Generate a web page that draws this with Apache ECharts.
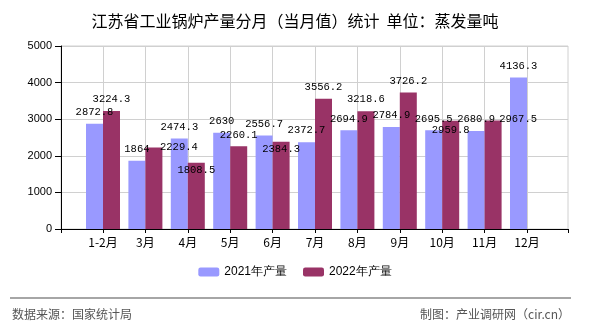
<!DOCTYPE html>
<html>
<head>
<meta charset="utf-8">
<script src="https://cdn.jsdelivr.net/npm/echarts@6/dist/echarts.min.js"></script>
<style>
html,body{margin:0;padding:0;background:#fff;}
#chart{width:590px;height:330px;}
</style>
</head>
<body>
<div id="chart"></div>
<script>
// ---- data ----
const categories = ['1-2月','3月','4月','5月','6月','7月','8月','9月','10月','11月','12月'];
const series2021 = [2872.8, 1864, 2474.3, 2630, 2556.7, 2372.7, 2694.9, 2784.9, 2695.5, 2680.9, 4136.3];
const series2022 = [3224.3, 2229.4, 1808.5, 2260.1, 2384.3, 3556.2, 3218.6, 3726.2, 2959.8, 2967.5, null];
const seriesNames = ['2021年产量', '2022年产量'];
const yTicks = [0, 1000, 2000, 3000, 4000, 5000];
const titleText = '江苏省工业锅炉产量分月（当月值）统计  单位：蒸发量吨';
const sourceText = '数据来源：国家统计局';
const makerText = '制图：产业调研网（cir.cn）';

// label placement tweaks (style only) for the 2022 series, by index: [dx, dy]
const nudge2022 = {1:[25,11], 2:[0,19], 4:[0,19], 8:[0,21], 9:[25,10]};

const labelStyle = {
  show: true, position: 'top', distance: 6, color: '#000',
  fontFamily: 'Liberation Mono', fontSize: 10.5
};

const chart = echarts.init(document.getElementById('chart'), null, {renderer: 'canvas'});

const data2022 = series2022.map((v, i) => {
  if (v === null) return '-';
  const n = nudge2022[i];
  return n ? {value: v, label: {offset: n}} : v;
});

chart.setOption({
  animation: false,
  title: {
    text: titleText, left: 'center', top: 8,
    textStyle: {fontSize: 16, fontWeight: 'normal', color: '#000', fontFamily: 'Noto Sans CJK SC'}
  },
  legend: {
    data: seriesNames, bottom: 47, left: 'center',
    itemWidth: 21, itemHeight: 9, itemGap: 16,
    textStyle: {fontSize: 12, color: '#000', fontFamily: 'Liberation Sans'}
  },
  grid: [
    {left: 61, right: 22, top: 46, bottom: 101, show: true, borderColor: '#d0d0d0', borderWidth: 1},
    {left: 103, right: 63, top: 46, bottom: 101}
  ],
  xAxis: [
    {gridIndex: 0, type: 'value', min: 0, max: 1, interval: 1,
     axisLine: {show: true, lineStyle: {color: '#000'}},
     axisTick: {show: true, length: 4, lineStyle: {color: '#000'}},
     axisLabel: {show: false}, splitLine: {show: false}},
    {gridIndex: 1, type: 'category', data: categories, boundaryGap: false,
     axisLine: {show: true, lineStyle: {color: '#000'}},
     axisTick: {show: true, length: 4, lineStyle: {color: '#000'}},
     axisLabel: {color: '#000', fontSize: 12, margin: 7, fontFamily: 'Noto Sans CJK SC'},
     splitLine: {show: true, lineStyle: {color: '#d0d0d0'}}}
  ],
  yAxis: [
    {gridIndex: 0, type: 'value', min: yTicks[0], max: yTicks[yTicks.length-1], interval: 1000,
     axisLine: {show: true, lineStyle: {color: '#000'}},
     axisTick: {show: true, length: 6, lineStyle: {color: '#000'}},
     axisLabel: {color: '#000', fontSize: 11, margin: 9, fontFamily: 'Liberation Sans',
                 formatter: v => String(v)},
     splitLine: {show: true, lineStyle: {color: '#d0d0d0'}}},
    {gridIndex: 1, type: 'value', min: yTicks[0], max: yTicks[yTicks.length-1], show: false,
     splitLine: {show: false}}
  ],
  series: [
    {name: seriesNames[0], type: 'bar', xAxisIndex: 1, yAxisIndex: 1,
     data: series2021, barWidth: 17, barGap: '0%', clip: false,
     itemStyle: {color: '#9999FF'}, label: labelStyle},
    {name: seriesNames[1], type: 'bar', xAxisIndex: 1, yAxisIndex: 1,
     data: data2022, barWidth: 17, barGap: '0%', clip: false,
     itemStyle: {color: '#993366'}, label: labelStyle}
  ],
  graphic: [
    {type: 'line', shape: {x1: 10, y1: 298, x2: 571, y2: 298},
     style: {stroke: '#888', lineWidth: 1.5}},
    {type: 'text', left: 12, top: 308,
     style: {text: sourceText, fill: '#555', fontSize: 12, fontFamily: 'Noto Sans CJK SC'}},
    {type: 'text', right: 20, top: 308,
     style: {text: makerText, fill: '#555', fontSize: 12, fontFamily: 'Noto Sans CJK SC'}}
  ]
});
</script>
</body>
</html>
